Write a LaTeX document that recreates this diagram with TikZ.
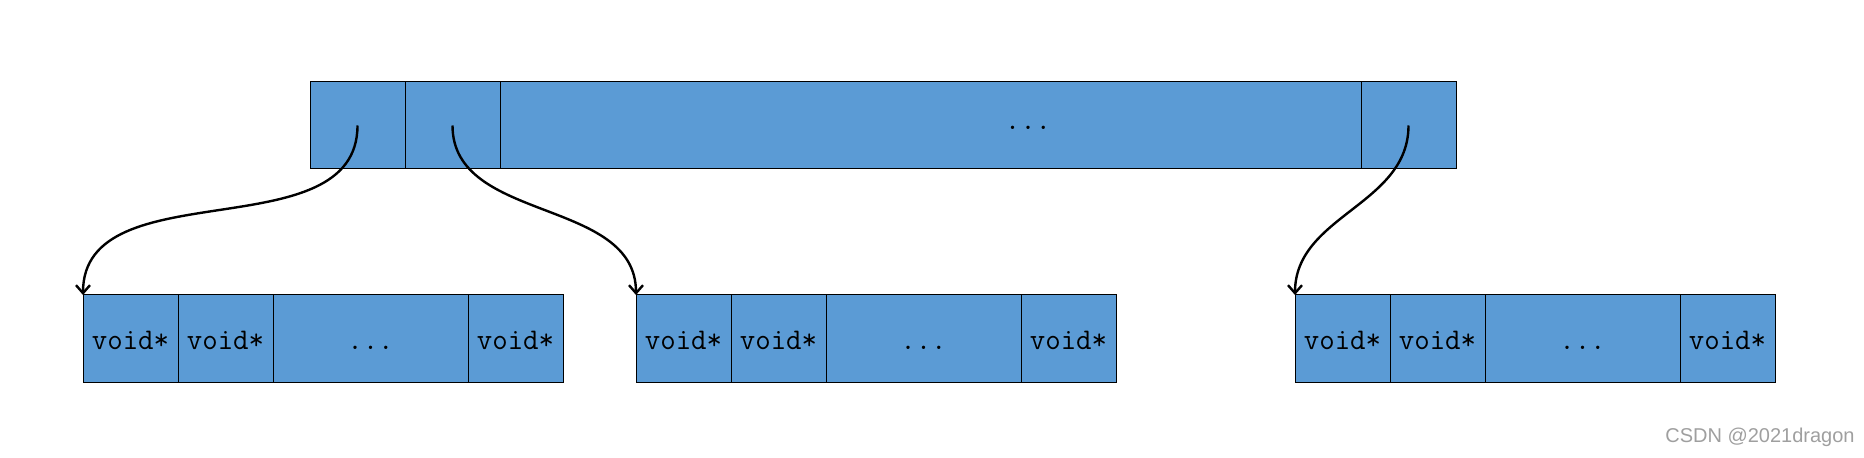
\documentclass[tikz,border=0pt]{standalone}
\usepackage{fontspec}
\newfontfamily\markfont{Liberation Sans}
\usepackage{tikz}
\usetikzlibrary{positioning}
\usetikzlibrary{arrows.meta}

\definecolor{cellblue}{HTML}{5B9BD5}

\tikzset{
	cell/.style={draw, fill=cellblue, line width=0.5pt, inner sep=0pt, outer sep=0pt,
		minimum height=44pt, minimum width=47.5pt, text height=10.5pt, text depth=0pt,
		font=\fontsize{15}{18}\ttfamily},
	wide/.style={cell, minimum width=97.5pt},
	ptr/.style={-{Straight Barb[length=4pt, width=7pt]}, line width=1.2pt, out=-90, in=90}
}

\begin{document}
\begin{tikzpicture}
		\useasboundingbox (0pt,0pt) rectangle (932pt,-229pt);
		% top array
		\node[cell, anchor=north west, minimum height=43.5pt] (t1) at (155pt,-41pt) {};
		\node[cell, minimum height=43.5pt, right = 0pt of t1] (t2) {};
		\node[cell, minimum height=43.5pt, minimum width=430.5pt, right = 0pt of t2] (t3) {};
		\node[cell, minimum height=43.5pt, right = 0pt of t3] (t4) {};
		\node[font=\fontsize{15}{18}\ttfamily] (tdots) at ([xshift=264pt, yshift=-1pt]t3.west) {...};
		% blocks
		\foreach \b/\x in {a/41.5pt, b/318pt, c/647.5pt} {
			\node[cell, anchor=north west] (\b1) at (\x,-147.5pt) {void*};
			\node[cell, right = 0pt of \b1] (\b2) {void*};
			\node[wide, right = 0pt of \b2] (\b3) {...};
			\node[cell, right = 0pt of \b3] (\b4) {void*};
		}
		\draw[ptr] (t1.center) to (a1.north west);
		\draw[ptr] (t2.center) to (b1.north west);
		\draw[ptr] (t4.center) to (c1.north west);
		\node[text=gray!75, font=\markfont\fontsize{10}{12}\selectfont] (mark) at (880pt,-218.5pt) {CSDN @2021dragon};
	\end{tikzpicture}
\end{document}
